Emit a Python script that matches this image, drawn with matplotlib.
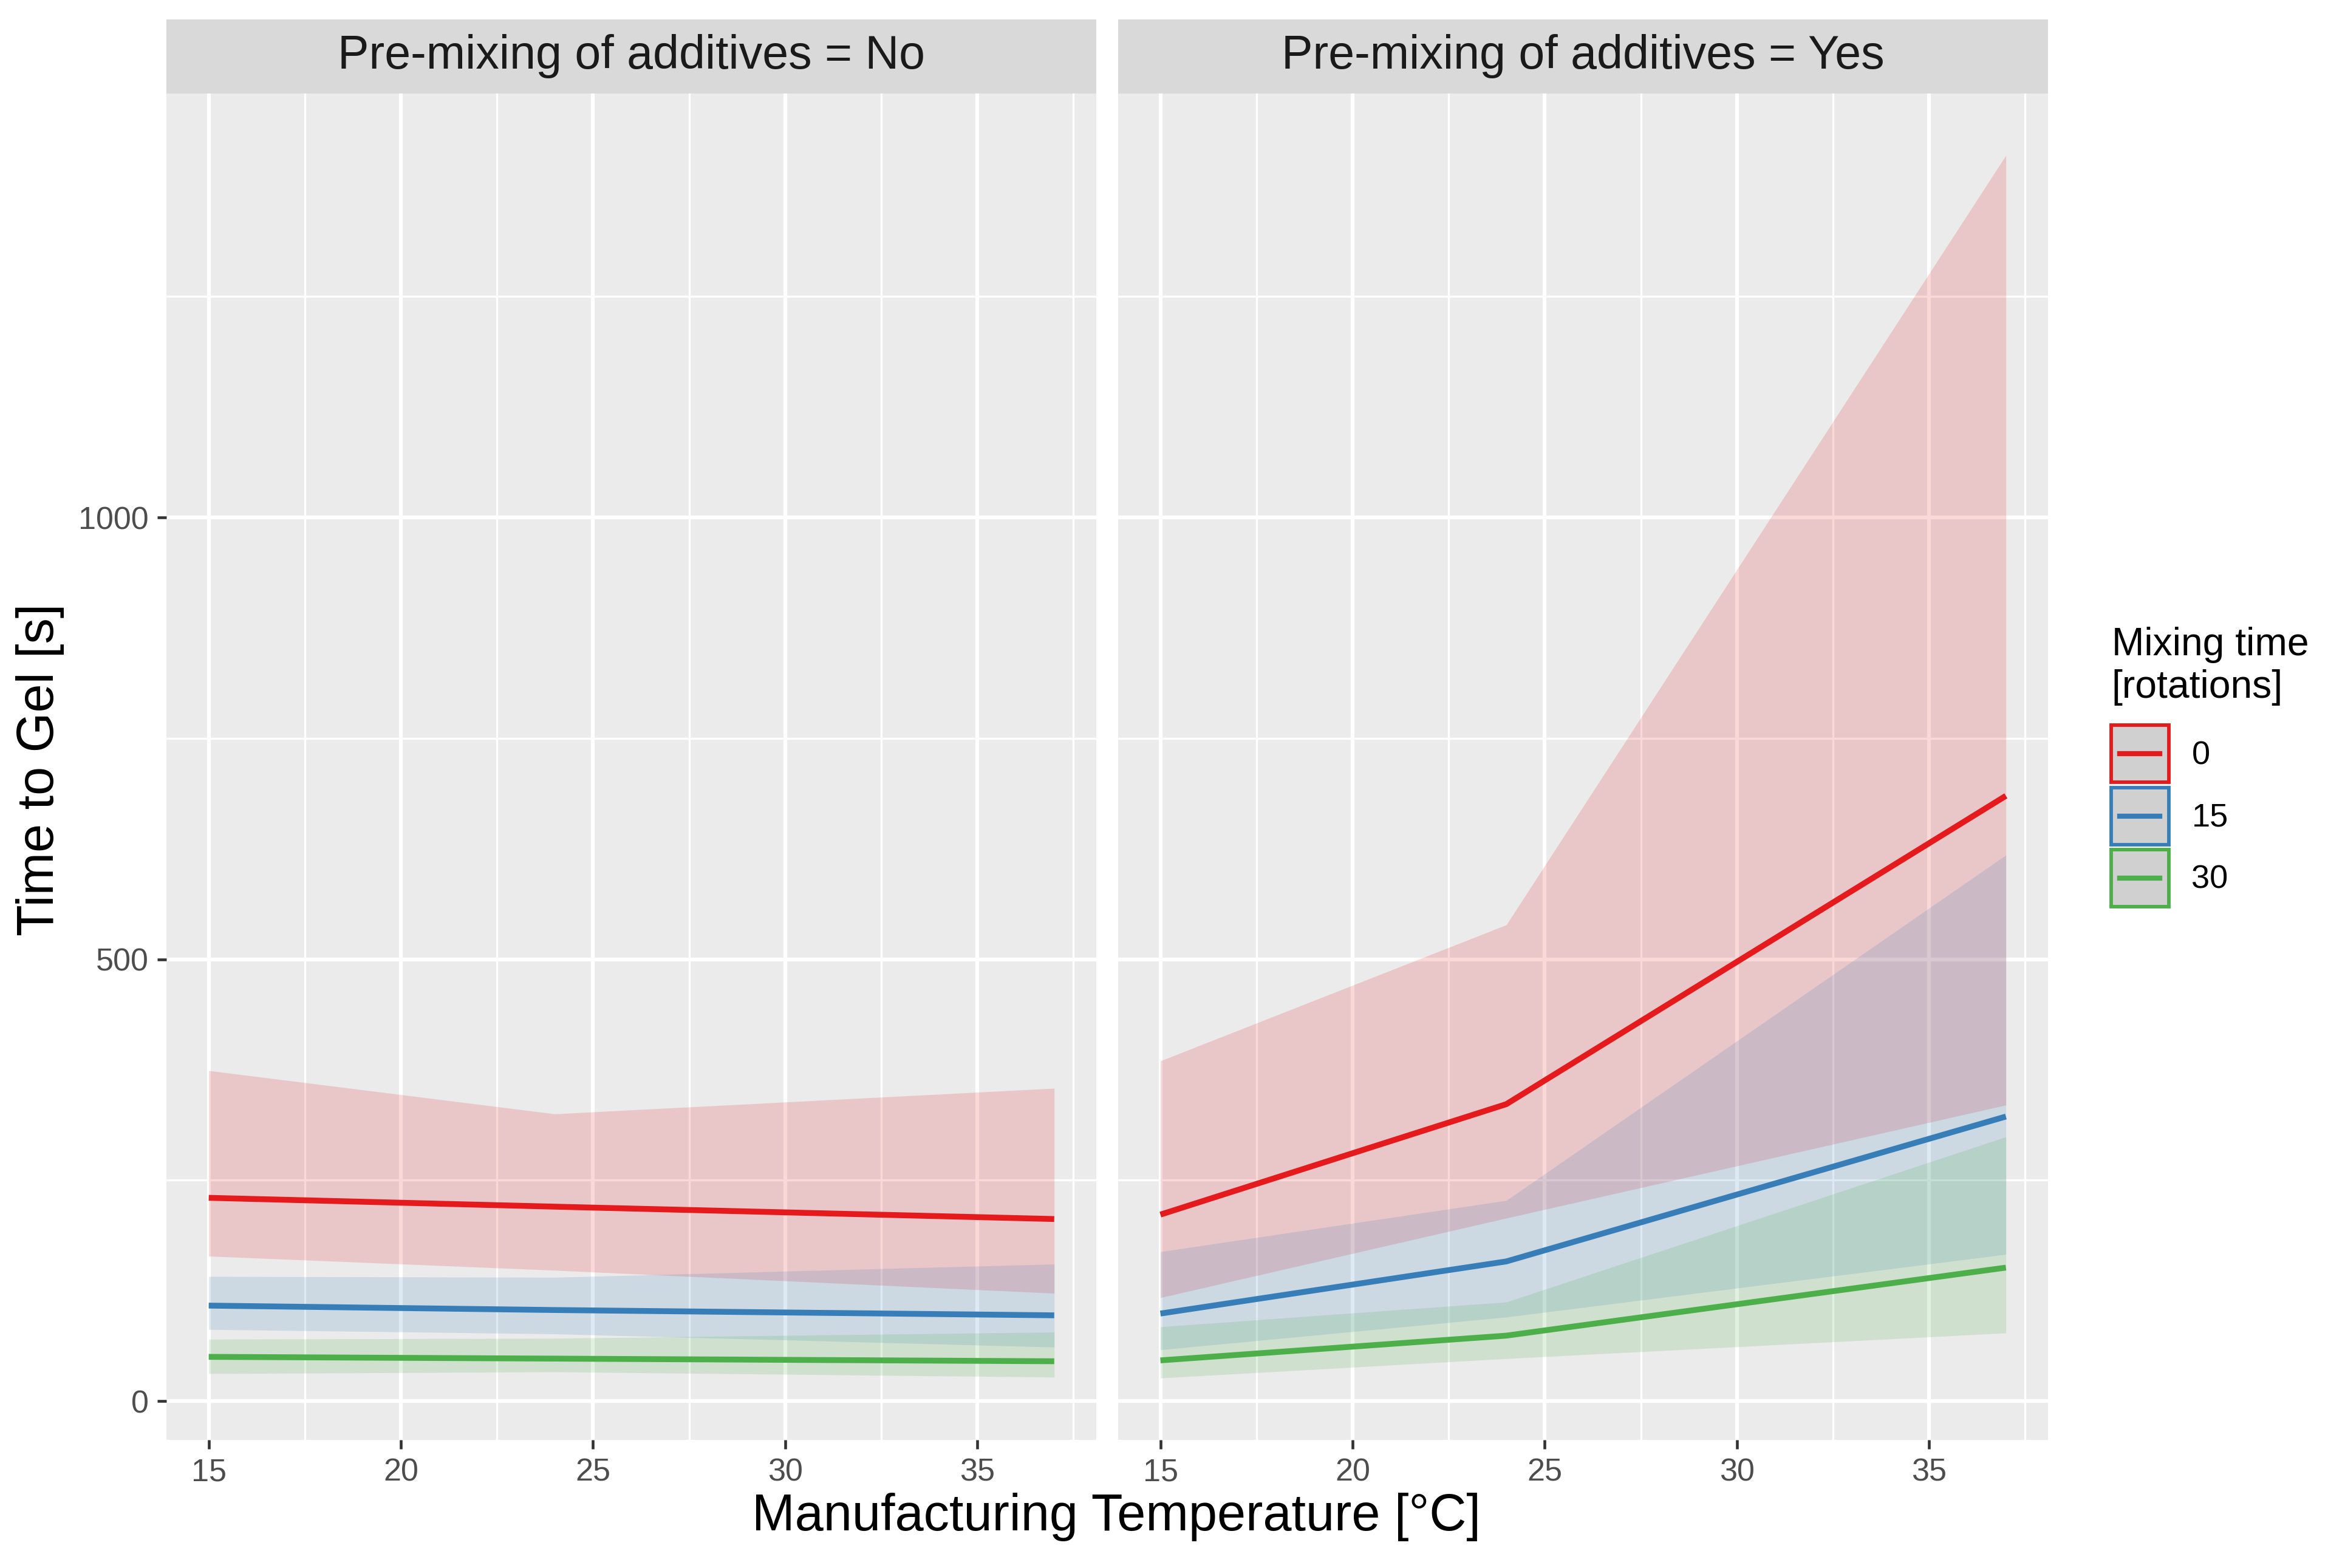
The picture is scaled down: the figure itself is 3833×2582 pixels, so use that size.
import matplotlib
matplotlib.use("Agg")
import matplotlib.pyplot as plt
from matplotlib.patches import Patch, Rectangle
from matplotlib.lines import Line2D
from matplotlib.ticker import MultipleLocator

plt.rcParams['font.family'] = ['Liberation Sans', 'DejaVu Sans']

# temperatures where the model was evaluated
temps = [15, 24, 37]
mixing = ['0', '15', '30']
colors = ['#E41A1C', '#377EB8', '#4DAF4A']

# Pre-mixing = No : fit, lower and upper band per mixing time
no_fit_0 = [230, 220, 206]
no_lo_0 = [164, 148, 122]
no_hi_0 = [374, 325, 354]
no_fit_15 = [108, 103, 97]
no_lo_15 = [81, 76, 61]
no_hi_15 = [141, 140, 155]
no_fit_30 = [50, 48, 45]
no_lo_30 = [31, 33, 27]
no_hi_30 = [70, 71, 78]

# Pre-mixing = Yes
yes_fit_0 = [211, 336, 685]
yes_lo_0 = [117, 207, 335]
yes_hi_0 = [385, 539, 1410]
yes_fit_15 = [99, 158, 322]
yes_lo_15 = [58, 95, 166]
yes_hi_15 = [169, 227, 618]
yes_fit_30 = [46, 74, 151]
yes_lo_30 = [26, 48, 77]
yes_hi_30 = [84, 112, 299]

panels = [
    ('Pre-mixing of additives = No',
     [(no_fit_0, no_lo_0, no_hi_0), (no_fit_15, no_lo_15, no_hi_15), (no_fit_30, no_lo_30, no_hi_30)]),
    ('Pre-mixing of additives = Yes',
     [(yes_fit_0, yes_lo_0, yes_hi_0), (yes_fit_15, yes_lo_15, yes_hi_15), (yes_fit_30, yes_lo_30, yes_hi_30)]),
]


class KeyHandler:
    # grey box with coloured border and a short line, like ggplot's ribbon+line key
    def legend_artist(self, legend, orig_handle, fontsize, handlebox):
        x0, y0 = -handlebox.xdescent, -handlebox.ydescent
        w, h = handlebox.width, handlebox.height
        c = orig_handle.get_edgecolor()
        rect = Rectangle((x0, y0), w, h, facecolor='#D0D0D0', edgecolor=c,
                         linewidth=1.4, transform=handlebox.get_transform())
        line = Line2D([x0 + 0.15 * w, x0 + 0.85 * w], [y0 + h / 2, y0 + h / 2],
                      color=c, linewidth=2.0, transform=handlebox.get_transform())
        handlebox.add_artist(rect)
        handlebox.add_artist(line)
        return rect


fig = plt.figure(figsize=(3833 / 300, 2582 / 300), dpi=300)

lefts = [0.0715, 0.4803]
width = 0.3995
bottom = 0.0817
height = 0.8587
strip_h = 0.0472

for i, (title, series) in enumerate(panels):
    ax = fig.add_axes([lefts[i], bottom, width, height])
    ax.set_facecolor('#EBEBEB')
    for s in ax.spines.values():
        s.set_visible(False)
    ax.set_xlim(13.9, 38.1)
    ax.set_ylim(-44, 1480)
    ax.xaxis.set_major_locator(MultipleLocator(5))
    ax.xaxis.set_minor_locator(MultipleLocator(2.5))
    ax.set_yticks([0, 500, 1000])
    ax.set_yticks([250, 750, 1250], minor=True)
    ax.grid(which='major', color='white', linewidth=1.5)
    ax.grid(which='minor', color='white', linewidth=0.8)
    ax.set_axisbelow(True)
    ax.tick_params(which='minor', length=0)
    ax.tick_params(which='major', length=3.6, width=1.1, color='#333333',
                   labelsize=12.5, labelcolor='#4D4D4D', pad=3.5)
    if i == 1:
        ax.tick_params(axis='y', length=0, labelleft=False)

    for (fit, lo, hi), c in zip(series, colors):
        ax.fill_between(temps, lo, hi, color=c, alpha=0.17, linewidth=0)
    for (fit, lo, hi), c in zip(series, colors):
        ax.plot(temps, fit, color=c, linewidth=2.3, solid_capstyle='butt')

    sax = fig.add_axes([lefts[i], bottom + height, width, strip_h])
    sax.set_facecolor('#D9D9D9')
    sax.set_xticks([])
    sax.set_yticks([])
    for s in sax.spines.values():
        s.set_visible(False)
    sax.text(0.5, 0.5, title, ha='center', va='center', fontsize=18.5,
             color='#1A1A1A', transform=sax.transAxes)

fig.text(0.4795, 0.0324, 'Manufacturing Temperature [°C]', ha='center', va='center',
         fontsize=20.3, color='black')
fig.text(0.0172, 0.509, 'Time to Gel [s]', ha='center', va='center',
         rotation=90, fontsize=20.3, color='black')

# legend title drawn separately to control the gap above the keys
fig.text(0.907, 0.6005, 'Mixing time\n[rotations]', ha='left', va='top',
         fontsize=15.4, linespacing=1.22, color='black')

handles = [Patch(edgecolor=c, facecolor='#D0D0D0') for c in colors]
leg = fig.legend(handles, mixing, loc='upper left', bbox_to_anchor=(0.9068, 0.5375),
                 frameon=False, fontsize=13,
                 handler_map={Patch: KeyHandler()},
                 handlelength=1.75, handleheight=2.3, handletextpad=0.7,
                 labelspacing=0.15, borderpad=0, borderaxespad=0)

fig.savefig('out.png', dpi=300)
